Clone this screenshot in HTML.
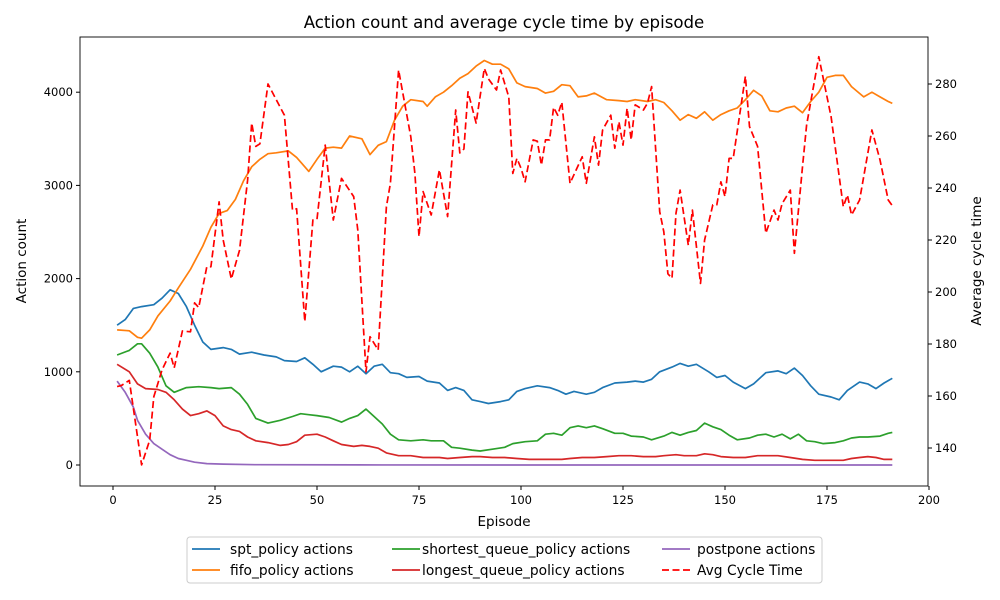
<!DOCTYPE html>
<html><head><meta charset="utf-8"><style>
body{margin:0;background:#fff}
svg{display:block}
text{font-family:"DejaVu Sans","Liberation Sans",sans-serif;fill:#000}
</style></head><body>
<svg id="chart" width="1000" height="600" xmlns="http://www.w3.org/2000/svg"></svg>
<script>
const spt_ep=[1,3,5,7,10,12,14,16,18,20,22,24,27,29,31,34,37,40,42,45,47,49,51,54,56,58,60,62,64,66,68,70,72,75,77,80,82,84,86,88,90,92,95,97,99,101,104,107,109,111,113,116,118,120,123,126,128,130,132,134,137,139,141,143,146,148,150,152,155,157,160,163,165,167,169,171,173,176,178,180,183,185,187,189,191];
const spt_val=[1500,1560,1680,1700,1720,1790,1880,1840,1700,1500,1320,1240,1260,1240,1190,1210,1180,1160,1120,1110,1150,1080,1000,1060,1050,1000,1060,980,1060,1080,990,980,940,950,900,880,800,830,800,700,680,660,680,700,790,820,850,830,800,760,790,760,780,830,880,890,900,890,920,1000,1050,1090,1060,1080,1000,940,960,890,820,870,990,1010,980,1040,960,850,760,730,700,800,890,870,820,880,930];
const fifo_ep=[1,4,6,7,9,11,14,16,19,22,24,26,28,30,32,34,36,38,40,43,45,47,48,50,52,54,56,58,61,63,65,67,69,71,73,76,77,79,81,83,85,87,89,91,93,95,97,99,101,104,106,108,110,112,114,116,118,121,124,126,128,131,133,135,137,139,141,143,145,147,149,151,153,155,157,159,161,163,165,167,169,171,173,175,177,179,181,184,186,188,190,191];
const fifo_val=[1450,1440,1370,1360,1450,1600,1760,1900,2100,2350,2550,2700,2730,2850,3050,3200,3280,3340,3350,3370,3300,3200,3150,3280,3400,3410,3400,3530,3500,3330,3430,3470,3700,3850,3920,3900,3850,3950,4000,4070,4150,4200,4280,4340,4300,4300,4250,4100,4060,4040,3990,4010,4080,4070,3950,3960,3990,3920,3910,3900,3920,3900,3920,3890,3800,3700,3760,3720,3790,3700,3760,3800,3830,3920,4020,3960,3800,3790,3830,3850,3780,3900,4000,4160,4180,4180,4060,3950,4000,3950,3900,3880];
const sq_ep=[1,4,6,7,9,11,13,15,18,21,24,26,29,31,33,35,38,41,44,46,48,50,53,56,58,60,62,64,66,68,70,73,76,78,81,83,85,88,90,93,96,98,101,104,106,108,110,112,114,116,118,120,123,125,127,130,132,135,137,139,141,143,145,147,149,151,153,156,158,160,162,164,166,168,170,172,174,177,179,181,183,185,188,190,191];
const sq_val=[1180,1230,1300,1300,1200,1050,850,780,830,840,830,820,830,760,650,500,450,480,520,550,540,530,510,460,500,530,600,520,440,330,270,260,270,260,260,190,180,160,150,170,190,230,250,260,330,340,320,400,420,400,420,390,340,340,310,300,270,310,350,320,350,370,450,410,380,320,270,290,320,330,300,330,280,330,260,250,230,240,260,290,300,300,310,340,350];
const lq_ep=[1,4,6,8,11,13,15,17,19,21,23,25,27,29,31,33,35,38,41,43,45,47,50,52,54,56,59,61,63,65,67,70,73,76,80,82,85,88,90,93,96,99,102,105,110,112,115,118,121,124,127,130,133,135,138,140,143,145,147,149,152,155,158,161,163,166,169,172,175,179,181,183,185,187,189,191];
const lq_val=[1080,1000,870,820,810,780,700,600,530,550,580,530,420,380,360,300,260,240,210,220,250,320,330,300,260,220,200,210,200,180,130,100,100,80,80,70,80,90,90,80,80,70,60,60,60,70,80,80,90,100,100,90,90,100,110,100,100,120,110,90,80,80,100,100,100,80,60,50,50,50,70,80,90,80,60,60];
const pp_ep=[1,3,5,6,8,10,12,14,16,18,20,23,27,35,60,100,150,191];
const pp_val=[900,780,620,480,330,230,170,110,70,50,30,15,10,3,1,0,0,0];
const ct_ep=[1,2,4,7,9,10,12,14,15,17,19,20,21,23,24,26,27,29,31,33,34,35,36,38,40,42,44,45,47,49,50,52,54,56,59,60,62,63,65,67,68,70,73,74,75,76,78,80,82,84,85,86,87,89,91,92,94,95,97,98,99,100,101,103,104,105,106,107,108,109,110,112,115,116,118,119,120,122,123,124,125,126,127,128,130,131,132,134,135,136,137,138,139,141,142,144,145,147,148,149,150,151,152,155,156,158,160,162,163,164,166,167,169,170,173,176,179,180,181,183,186,188,190,191];
const ct_val=[163.6,164,166,133.5,143,159.7,170,176.5,170.8,185,184.7,195.8,194,209.7,209.7,234.7,220,205,216,243,265,256,257,280,274,268,231.5,232,188.6,227.7,228,256.5,227.7,243.7,236.7,223.8,169.3,182.8,177.7,232.8,241.8,285.4,259.7,245.6,221.3,238.6,229.6,247,229,270,253.5,255,277,265,286,282,277.7,285.4,275,245.6,251.4,247.6,242.4,258.5,258,248.8,258.5,258.5,271,268,273,241.8,252,241.8,259.7,248.8,262.3,268,255.3,265.5,256.5,270.7,258.5,272,270,272.6,279,230.9,223.2,207,205.3,230.3,239.2,218,231.5,203.3,220,233.5,233.5,242.4,236.7,251.4,251.4,283,263.6,256,222.6,231.5,227.7,234,239.2,214.9,248.2,264.2,290.5,267.4,232.8,237.3,229.6,235.4,262.3,250.8,235.4,233.2];
const xTicks=[0,25,50,75,100,125,150,175,200];
const yTicks=[0,1000,2000,3000,4000];
const y2Ticks=[140,160,180,200,220,240,260,280];

const NS='http://www.w3.org/2000/svg';
const svg=document.getElementById('chart');
const L=80,R=928,T=37,B=486;
const X=e=>113+4.08*e;
const Y=v=>465-0.0932*v;
const Y2=v=>448-(v-140)*2.6;
function mk(tag,attrs,parent){const el=document.createElementNS(NS,tag);for(const k in attrs)el.setAttribute(k,attrs[k]);(parent||svg).appendChild(el);return el;}
function txt(s,attrs){const t=mk('text',attrs);t.textContent=s;return t;}

const clip=mk('clipPath',{id:'pc'});mk('rect',{x:L,y:T,width:R-L,height:B-T},clip);
const series=[
 ['spt-policy-line',spt_ep,spt_val,'#1f77b4',Y,''],
 ['fifo-policy-line',fifo_ep,fifo_val,'#ff7f0e',Y,''],
 ['shortest-queue-policy-line',sq_ep,sq_val,'#2ca02c',Y,''],
 ['longest-queue-policy-line',lq_ep,lq_val,'#d62728',Y,''],
 ['postpone-line',pp_ep,pp_val,'#9467bd',Y,''],
 ['avg-cycle-time-line',ct_ep,ct_val,'#ff0000',Y2,'7,3.5']
];
series.forEach(s=>{
 const d=s[1].map((e,i)=>(i?'L':'M')+X(e).toFixed(1)+','+s[4](s[2][i]).toFixed(1)).join('');
 const p=mk('path',{d:d,fill:'none',stroke:s[3],'stroke-width':1.7,'clip-path':'url(#pc)','stroke-linejoin':'round'});
 if(s[5])p.setAttribute('stroke-dasharray',s[5]);
 
 
});
const frame=mk('rect',{x:L,y:T,width:R-L,height:B-T,fill:'none',stroke:'#000','stroke-width':0.9});



xTicks.forEach(t=>{
 mk('line',{x1:X(t),x2:X(t),y1:B,y2:B+4,stroke:'#000'});
 const l=txt(t,{x:X(t),y:B+18,'text-anchor':'middle','font-size':11.5});
 
 
});
yTicks.forEach(t=>{
 mk('line',{x1:L-4,x2:L,y1:Y(t),y2:Y(t),stroke:'#000'});
 const l=txt(t,{x:L-7,y:Y(t)+4,'text-anchor':'end','font-size':11.5});
 
 
});
y2Ticks.forEach(t=>{
 mk('line',{x1:R,x2:R+4,y1:Y2(t),y2:Y2(t),stroke:'#000'});
 const l=txt(t,{x:R+7,y:Y2(t)+4,'text-anchor':'start','font-size':11.5});
 
 
});
</script>
<svg style="position:absolute;left:0;top:0" width="1000" height="600" xmlns="http://www.w3.org/2000/svg">
<text x="504" y="28" text-anchor="middle" font-size="16.6">Action count and average cycle time by episode</text>
<text x="504" y="526" text-anchor="middle" font-size="13.5">Episode</text>
<text transform="translate(26,261) rotate(-90)" text-anchor="middle" font-size="13.5">Action count</text>
<text transform="translate(981,261) rotate(-90)" text-anchor="middle" font-size="13.5">Average cycle time</text>
<g font-size="13.8">
<rect x="187" y="537" width="635" height="46" rx="3" fill="#fff" stroke="#ccc"/>
<g><line x1="192" x2="220" y1="549" y2="549" stroke="#1f77b4" stroke-width="1.7"/><text x="230" y="554">spt_policy actions</text></g>
<g><line x1="192" x2="220" y1="570" y2="570" stroke="#ff7f0e" stroke-width="1.7"/><text x="230" y="575">fifo_policy actions</text></g>
<g><line x1="392" x2="420" y1="549" y2="549" stroke="#2ca02c" stroke-width="1.7"/><text x="422" y="554">shortest_queue_policy actions</text></g>
<g><line x1="392" x2="420" y1="570" y2="570" stroke="#d62728" stroke-width="1.7"/><text x="422" y="575">longest_queue_policy actions</text></g>
<g><line x1="662" x2="690" y1="549" y2="549" stroke="#9467bd" stroke-width="1.7"/><text x="697" y="554">postpone actions</text></g>
<g><line x1="662" x2="690" y1="570" y2="570" stroke="#ff0000" stroke-width="1.7" stroke-dasharray="7,3.5"/><text x="697" y="575">Avg Cycle Time</text></g>
</g>
</svg>
</body></html>
